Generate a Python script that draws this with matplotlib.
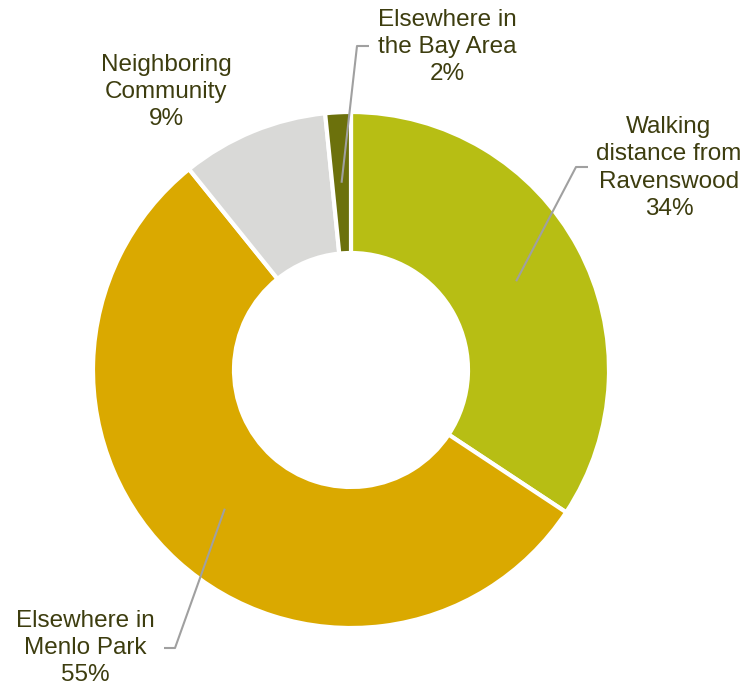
import matplotlib
matplotlib.use("Agg")
import matplotlib.pyplot as plt
import numpy as np

# slice data, clockwise from 12 o'clock
labels = ["Walking\ndistance from\nRavenswood", "Elsewhere in\nMenlo Park",
          "Neighboring\nCommunity", "Elsewhere in\nthe Bay Area"]
shares = [34.3, 54.9, 9.2, 1.6]
colors = ["#B7BE14", "#DAA900", "#D9D9D7", "#6C710C"]

# label text centres and leader-line elbows (pixel layout, y from top)
label_pos = [(669, 168), (85, 648), (166, 92), (447, 47)]
elbows = [[(576, 167), (588, 167)], [(175, 648), (164, 648)], None, [(357, 46), (369, 46)]]

W, H = 754, 689
text_color = "#3D3D0F"
plt.rcParams['font.family'] = ['Liberation Sans', 'DejaVu Sans']

fig = plt.figure(figsize=(W / 100, H / 100), dpi=100)
ax = fig.add_axes([0, 0, 1, 1])

cx, cy = 351, H - 370
r_out, r_in = 258, 117

wedges, _ = ax.pie(shares, colors=colors, startangle=90, counterclock=False,
                   center=(cx, cy), radius=r_out, frame=True,
                   wedgeprops=dict(width=r_out - r_in, edgecolor='white', linewidth=3))
ax.set_xlim(0, W)
ax.set_ylim(0, H)
ax.set_aspect('equal')
ax.axis('off')

r_mid = (r_out + r_in) / 2
for w, lab, val, pos, elb in zip(wedges, labels, shares, label_pos, elbows):
    ax.text(pos[0], H - pos[1], "%s\n%d%%" % (lab, round(val)), ha='center', va='center',
            fontsize=17.5, color=text_color, linespacing=1.32)
    if elb is None:
        continue
    ang = np.deg2rad((w.theta1 + w.theta2) / 2)
    xs = [cx + r_mid * np.cos(ang)] + [p[0] for p in elb]
    ys = [cy + r_mid * np.sin(ang)] + [H - p[1] for p in elb]
    ax.plot(xs, ys, color='#A0A0A0', linewidth=1.5, solid_capstyle='butt')

fig.savefig("out.png", dpi=100)
